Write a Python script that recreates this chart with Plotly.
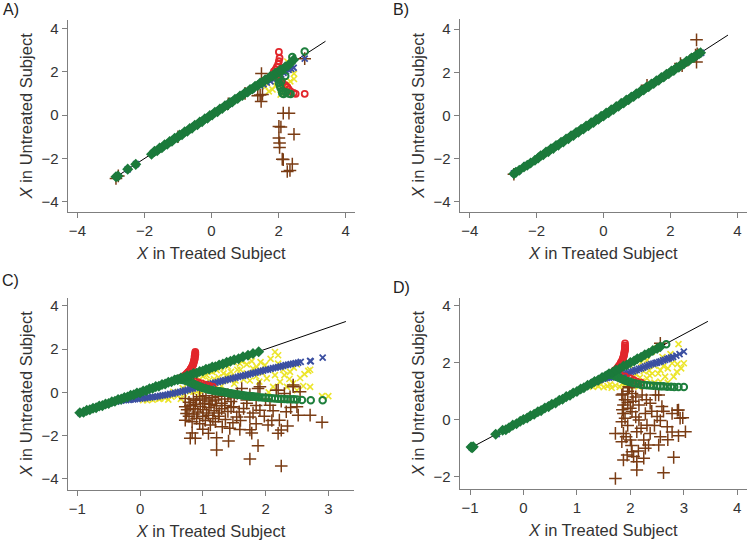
import plotly.graph_objects as go

# ---------------- Panel A ----------------
a_line = [-2.9, 3.4]
a_green_diamonds = [(-2.85,-2.84),(-2.79,-2.81),(-2.50,-2.49),(-2.26,-2.27),(-1.79,-1.80),
    (-1.70,-1.67),(-1.62,-1.64),(-1.55,-1.52),(-1.48,-1.50),(-1.40,-1.37),(-1.32,-1.34),(-1.25,-1.22),
    (-1.18,-1.20),(-1.10,-1.07),(-1.02,-1.04),(-0.95,-0.92),(-0.88,-0.90),(-0.80,-0.77),(-0.72,-0.74),
    (-0.65,-0.62),(-0.58,-0.60),(-0.50,-0.47),(-0.42,-0.44),(-0.35,-0.32),(-0.28,-0.30),(-0.20,-0.17),
    (-0.12,-0.14),(-0.05,-0.02),(0.02,0.00),(0.10,0.13),(0.18,0.16),(0.25,0.28),(0.32,0.30),(0.40,0.43),
    (0.48,0.46),(0.55,0.58),(0.62,0.60),(0.70,0.73),(0.78,0.76),(0.85,0.88),(0.92,0.90),(1.00,1.03),
    (1.08,1.06),(1.15,1.18),(1.22,1.20),(1.30,1.33),(1.38,1.36),(1.45,1.48),(1.52,1.50),(1.60,1.63),
    (1.68,1.66),(1.75,1.78),(1.82,1.80),(1.90,1.93),(1.97,1.95),(2.05,2.08),(2.12,2.10),(2.20,2.22),
    (2.28,2.27),(2.36,2.40),(2.45,2.55)]
a_blue_x = [(-2.82,-2.83),(-2.50,-2.50),(-2.25,-2.26),(-1.50,-1.50),(-0.50,-0.50),(0.50,0.50),(1.20,1.18),
    (1.45,1.36),(1.55,1.42),(1.65,1.50),(1.76,1.55),(1.85,1.63),(1.93,1.70),(2.00,1.76),(2.08,1.86),
    (2.15,1.95),(2.22,2.02),(2.30,2.08),(2.38,2.13),(2.45,2.18),(2.78,2.60)]
a_yellow_x = [(1.71,1.09),(1.82,1.18),(1.90,1.35),(2.06,0.94),(2.12,1.05),(2.20,1.40),(2.26,2.47),(2.30,2.30),
    (2.46,1.91),(2.46,1.66),(2.35,1.55),(1.60,1.30),(1.95,1.55),(2.15,1.20),(2.38,2.35)]
a_red_circles = [(2.01,2.91),(2.03,2.63),(2.01,2.48),(1.99,2.35),(1.95,2.22),(1.91,2.10),(1.86,2.01),(1.88,1.88),
    (1.95,1.75),(2.05,1.62),(2.12,1.50),(2.20,1.38),(2.26,1.30),(2.30,1.20),(2.36,1.09),(2.45,1.02),
    (2.51,0.98),(2.78,0.98)]
a_green_circles = [(2.78,2.93),(2.41,2.68),(2.01,1.78),(2.00,1.65),(2.01,1.48),(2.04,1.35),(2.06,1.25),(2.10,1.12),
    (2.11,1.01),(2.15,0.97),(2.22,1.05),(2.30,0.99),(2.36,0.97),(2.08,1.55),(2.20,1.80)]
a_brown_plus = [(-2.85,-2.92),(-2.78,-2.80),(-1.00,-1.00),(0.50,0.52),(1.00,1.00),(1.49,1.91),(1.38,0.89),
    (1.48,0.63),(1.45,0.92),(1.52,0.95),(2.14,0.09),(2.31,0.09),(2.01,-0.52),(2.07,-0.55),(2.46,-0.88),
    (2.01,-1.06),(2.03,-1.28),(2.03,-1.49),(2.11,-2.03),(2.14,-2.05),(2.41,-2.25),(2.26,-2.60),(2.34,-2.55),
    (2.78,2.60)]

# ---------------- Panel B ----------------
b_line = [-2.7, 3.72]
b_green_diamonds = [(-2.68,-2.69),(-2.62,-2.63),(-2.52,-2.53),(-2.38,-2.38),(-2.28,-2.30),(-2.18,-2.20),
    (-2.05,-2.07),(-1.95,-1.96),(-1.88,-1.86),(-1.80,-1.82),(-1.72,-1.69),(-1.65,-1.67),(-1.57,-1.54),
    (-1.50,-1.52),(-1.42,-1.39),(-1.35,-1.37),(-1.27,-1.24),(-1.20,-1.22),(-1.12,-1.09),(-1.05,-1.07),
    (-0.97,-0.94),(-0.90,-0.92),(-0.82,-0.79),(-0.75,-0.77),(-0.67,-0.64),(-0.60,-0.62),(-0.52,-0.49),
    (-0.45,-0.47),(-0.37,-0.34),(-0.30,-0.32),(-0.22,-0.19),(-0.15,-0.17),(-0.07,-0.04),(0.00,-0.02),
    (0.08,0.11),(0.15,0.13),(0.23,0.26),(0.30,0.28),(0.38,0.41),(0.45,0.43),(0.53,0.56),(0.60,0.58),
    (0.68,0.71),(0.75,0.73),(0.83,0.86),(0.90,0.88),(0.98,1.01),(1.05,1.03),(1.13,1.16),(1.20,1.18),
    (1.28,1.31),(1.35,1.33),(1.43,1.46),(1.50,1.48),(1.58,1.61),(1.65,1.63),(1.73,1.76),(1.80,1.78),
    (1.88,1.91),(1.95,1.93),(2.03,2.06),(2.10,2.08),(2.18,2.21),(2.25,2.23),(2.33,2.36),(2.40,2.38),
    (2.48,2.51),(2.55,2.53),(2.63,2.66),(2.70,2.68),(2.78,2.80),(2.85,2.85),(2.90,2.90)]
b_blue_x = [(-2.68,-2.68),(-2.55,-2.56),(-2.30,-2.30),(2.70,2.70),(2.85,2.85),(2.92,2.90)]
b_brown_plus = [(2.78,3.50),(2.78,2.47),(2.75,2.80),(2.80,2.85),(2.30,2.40),(2.35,2.30),(1.30,1.40),(-2.68,-2.72)]

# ---------------- Panel C ----------------
c_line = [-0.95, 3.28]
c_green_diamonds = [(-0.96,-0.94),(-0.90,-0.91),(-0.85,-0.83),(-0.80,-0.80),(-0.75,-0.73),(-0.70,-0.71),
    (-0.65,-0.63),(-0.60,-0.61),(-0.55,-0.53),(-0.50,-0.51),(-0.45,-0.43),(-0.40,-0.41),(-0.35,-0.33),
    (-0.30,-0.31),(-0.25,-0.23),(-0.20,-0.21),(-0.15,-0.13),(-0.10,-0.11),(-0.05,-0.03),(0.00,-0.01),
    (0.05,0.07),(0.10,0.09),(0.15,0.17),(0.20,0.19),(0.25,0.27),(0.30,0.29),(0.35,0.37),(0.40,0.39),
    (0.45,0.47),(0.50,0.49),(0.55,0.57),(0.60,0.59),(0.65,0.67),(0.70,0.69),(0.75,0.77),(0.80,0.79),
    (0.85,0.87),(0.90,0.89),(0.95,0.97),(1.00,0.99),(1.05,1.07),(1.10,1.09),(1.15,1.17),(1.20,1.19),
    (1.26,1.27),(1.32,1.31),(1.38,1.39),(1.44,1.44),(1.50,1.51),(1.57,1.56),(1.64,1.65),(1.72,1.72),
    (1.80,1.80),(1.89,1.88)]
c_green_circles = [(0.60,0.63),(0.63,0.61),(0.65,0.60),(0.68,0.58),(0.70,0.57),(0.73,0.54),(0.75,0.52),
    (0.78,0.49),(0.80,0.46),(0.83,0.43),(0.85,0.40),(0.88,0.36),(0.90,0.33),(0.93,0.30),(0.95,0.27),
    (0.98,0.24),(1.00,0.21),(1.03,0.19),(1.05,0.17),(1.08,0.15),(1.10,0.13),(1.13,0.11),(1.15,0.10),
    (1.18,0.08),(1.20,0.07),(1.23,0.06),(1.25,0.05),(1.28,0.04),(1.30,0.03),(1.33,0.02),(1.35,0.01),
    (1.38,-0.01),(1.40,-0.02),(1.43,-0.04),(1.45,-0.05),(1.48,-0.06),(1.50,-0.07),(1.53,-0.09),(1.55,-0.10),
    (1.58,-0.11),(1.60,-0.12),(1.63,-0.13),(1.65,-0.14),(1.68,-0.15),(1.70,-0.16),(1.73,-0.17),(1.75,-0.17),
    (1.78,-0.18),(1.80,-0.19),(1.83,-0.20),(1.85,-0.20),(1.88,-0.21),(1.90,-0.22),(1.95,-0.23),(2.00,-0.25),
    (2.05,-0.26),(2.10,-0.27),(2.15,-0.28),(2.20,-0.29),(2.25,-0.30),(2.30,-0.30),(2.35,-0.31),(2.40,-0.31),
    (2.45,-0.32),(2.50,-0.33),(2.58,-0.35),(2.72,-0.36),(2.91,-0.36)]
c_red_circles = [(0.62,0.64),(0.65,0.67),(0.67,0.70),(0.69,0.74),(0.71,0.78),(0.73,0.82),(0.74,0.86),
    (0.76,0.91),(0.77,0.95),(0.79,1.00),(0.80,1.05),(0.81,1.10),(0.82,1.15),(0.83,1.20),(0.84,1.26),
    (0.85,1.32),(0.85,1.37),(0.86,1.43),(0.86,1.48),(0.87,1.53),(0.87,1.58),(0.87,1.63),(0.87,1.68),
    (0.88,1.73),(0.88,1.77),(0.88,1.82),(0.88,1.87),(0.70,0.62),(0.76,0.58),(0.82,0.55),(0.88,0.51),
    (0.93,0.47),(0.98,0.42),(1.04,0.36),(1.10,0.31),(1.16,0.27)]
c_blue_x = [(-0.95,-0.95),(-0.85,-0.85),(-0.75,-0.75),(-0.65,-0.65),(-0.55,-0.55),(-0.45,-0.47),(-0.38,-0.42),
    (-0.34,-0.40),(-0.30,-0.38),(-0.26,-0.36),(-0.22,-0.35),(-0.18,-0.34),(-0.15,-0.33),(-0.11,-0.32),
    (-0.08,-0.31),(-0.04,-0.30),(0.00,-0.29),(0.04,-0.27),(0.08,-0.26),(0.12,-0.24),(0.16,-0.23),
    (0.20,-0.21),(0.24,-0.20),(0.28,-0.18),(0.32,-0.16),(0.36,-0.14),(0.40,-0.12),(0.44,-0.10),(0.48,-0.07),
    (0.52,-0.05),(0.56,-0.02),(0.60,0.00),(0.64,0.03),(0.68,0.06),(0.72,0.09),(0.76,0.12),(0.80,0.15),
    (0.84,0.18),(0.88,0.21),(0.92,0.24),(0.96,0.27),(1.00,0.30),(1.04,0.33),(1.08,0.36),(1.12,0.39),
    (1.16,0.42),(1.20,0.45),(1.24,0.48),(1.28,0.51),(1.32,0.54),(1.36,0.57),(1.40,0.60),(1.44,0.63),
    (1.48,0.66),(1.52,0.69),(1.56,0.72),(1.60,0.75),(1.64,0.77),(1.68,0.80),(1.72,0.83),(1.76,0.86),
    (1.80,0.89),(1.84,0.92),(1.88,0.95),(1.92,0.98),(1.96,1.01),(2.00,1.04),(2.04,1.06),(2.08,1.09),
    (2.12,1.12),(2.16,1.15),(2.20,1.17),(2.24,1.20),(2.28,1.23),(2.32,1.26),(2.36,1.28),(2.40,1.31),
    (2.44,1.33),(2.48,1.36),(2.52,1.38),(2.56,1.41),(2.71,1.46),(2.72,1.44),(2.91,1.61)]
c_yellow_x = [(0.05,-0.36),(0.11,-0.36),(0.20,-0.34),(0.30,-0.30),(0.32,-0.28),(0.40,-0.25),(0.45,-0.33),
    (0.50,-0.20),(0.53,0.03),(0.60,-0.15),(0.65,-0.30),(0.70,-0.05),(0.75,0.10),(0.80,0.05),(0.85,0.03),
    (0.90,0.50),(0.95,0.60),(1.00,0.75),(1.06,0.80),(1.10,0.55),(1.15,0.95),(1.22,1.03),(1.25,0.70),
    (1.33,0.88),(1.40,1.20),(1.43,0.72),(1.49,1.41),(1.55,1.05),(1.59,1.34),(1.65,0.60),(1.70,0.88),
    (1.75,1.72),(1.80,1.10),(1.86,1.18),(1.90,0.50),(1.99,1.26),(2.02,0.65),(2.05,0.00),(2.12,0.26),
    (2.15,1.87),(2.20,1.72),(2.20,1.33),(2.23,0.49),(2.30,0.80),(2.34,0.26),(2.39,0.95),(2.44,0.42),
    (2.50,0.10),(2.55,0.67),(2.60,0.30),(2.68,1.00),(2.71,0.26),(2.71,1.05),(2.90,-0.17),(3.00,-0.17),
    (1.30,0.30),(1.50,0.40),(1.00,0.10),(1.20,0.20),(0.95,-0.10),(1.12,1.00),(1.28,1.15),(1.62,1.45),
    (1.05,0.45),(1.35,0.55),(1.70,1.30),(1.85,0.75),(0.85,0.35),(1.45,0.95),(0.15,-0.30),(0.25,-0.25),
    (0.38,-0.18),(0.58,-0.08),(0.68,0.20),(0.78,0.28),(0.92,0.08),(1.18,0.62),(1.38,0.80),(1.52,0.55),
    (1.60,1.05),(1.78,1.45),(1.92,1.40),(2.08,1.55),(2.28,1.05),(2.45,1.15),(2.15,0.80),(1.95,0.90),
    (2.62,0.85),(2.38,0.62),(1.75,0.55),(2.50,1.30)]
c_brown_plus = [(0.72,-0.28),(0.78,-0.45),(0.85,-0.30),(0.90,-0.36),(0.95,-0.20),(1.00,-0.30),(1.05,-0.15),
    (1.10,-0.40),(1.15,-0.25),(1.20,-0.35),(1.25,-0.18),(1.30,-0.50),(1.35,-0.30),(1.40,-0.10),(1.45,-0.42),
    (1.50,-0.25),(1.55,-0.05),(1.62,0.18),(1.70,-0.35),(1.75,-0.10),(1.88,0.18),(1.91,0.26),(2.00,-0.30),
    (2.17,0.10),(2.20,0.10),(2.39,-0.20),(2.44,0.34),(2.44,0.26),(2.55,0.03),(2.30,-0.05),
    (0.72,-0.66),(0.75,-0.80),(0.80,-0.60),(0.85,-0.75),(0.88,-0.55),(0.92,-0.90),(0.96,-0.65),(1.00,-0.80),
    (1.03,-0.50),(1.06,-0.95),(1.10,-0.70),(1.13,-0.55),(1.18,-0.85),(1.22,-0.62),(1.26,-0.95),(1.30,-0.75),
    (1.35,-0.60),(1.40,-0.88),(1.45,-0.70),(1.49,-0.66),(1.54,-1.13),(1.58,-0.90),(1.65,-0.74),(1.70,-0.50),
    (1.75,-1.13),(1.80,-0.95),(1.85,-0.60),(1.91,-0.82),(1.98,-1.10),(2.07,-0.59),(2.12,-0.85),(2.22,-1.28),
    (2.25,-0.40),(2.33,-0.89),(2.40,-0.70),(2.50,-0.66),(2.52,-1.05),(2.71,-1.05),(2.90,-1.38),
    (0.72,-1.28),(0.74,-0.97),(0.78,-1.10),(0.83,-1.35),(0.86,-1.00),(0.90,-1.20),(0.95,-1.45),(1.00,-1.10),
    (1.04,-1.30),(1.09,-1.05),(1.12,-1.50),(1.16,-1.20),(1.20,-1.35),(1.25,-1.10),(1.31,-1.59),(1.36,-1.25),
    (1.43,-1.66),(1.48,-1.40),(1.60,-1.30),(1.59,-1.71),(1.75,-1.73),(1.78,-1.88),(1.85,-1.45),(2.04,-1.51),
    (2.10,-1.30),(2.20,-1.89),(2.25,-1.74),(2.35,-1.55),
    (0.80,-2.12),(0.88,-2.12),(0.83,-1.87),(1.09,-1.89),(1.22,-2.10),(1.00,-1.70),(1.41,-2.25),(1.22,-2.66),
    (1.75,-3.08),(1.88,-2.46),(2.25,-3.40)]

# ---------------- Panel D ----------------
d_line = [-0.95, 3.45]
d_green_diamonds = [(-0.98,-0.96),(-0.96,-0.98),(-0.94,-0.95),(-0.52,-0.51),(-0.39,-0.37),(-0.33,-0.35),
    (-0.27,-0.28),(-0.20,-0.19),(-0.13,-0.14),(-0.06,-0.05),(0.00,0.01),(0.07,0.06),(0.13,0.14),(0.20,0.19),
    (0.27,0.28),(0.33,0.32),(0.40,0.41),(0.47,0.46),(0.53,0.54),(0.60,0.59),(0.67,0.68),(0.73,0.72),
    (0.80,0.81),(0.87,0.86),(0.93,0.94),(1.00,0.99),(1.07,1.08),(1.13,1.12),(1.20,1.21),(1.27,1.26),
    (1.33,1.34),(1.40,1.39),(1.47,1.48),(1.53,1.52),(1.60,1.61),(1.67,1.66),(1.73,1.74),(1.80,1.79),
    (1.87,1.88),(1.93,1.92),(2.00,2.01),(2.07,2.06),(2.13,2.14),(2.20,2.19),(2.27,2.28),(2.34,2.33),
    (2.42,2.43),(2.50,2.50),(2.56,2.56)]
d_green_circles = [(1.60,1.60),(1.63,1.59),(1.65,1.58),(1.68,1.57),(1.70,1.55),(1.73,1.52),(1.75,1.50),
    (1.78,1.48),(1.80,1.46),(1.83,1.44),(1.85,1.42),(1.88,1.40),(1.90,1.38),(1.93,1.36),(1.95,1.35),
    (1.98,1.33),(2.00,1.32),(2.05,1.29),(2.10,1.27),(2.15,1.25),(2.20,1.23),(2.25,1.22),(2.31,1.21),
    (2.37,1.20),(2.43,1.19),(2.50,1.18),(2.56,1.17),(2.62,1.17),(2.69,1.16),(2.76,1.16),(2.82,1.15),
    (2.90,1.15),(3.00,1.15),(2.67,2.65)]
d_red_circles = [(1.70,1.72),(1.73,1.76),(1.75,1.80),(1.77,1.85),(1.79,1.90),(1.81,1.95),(1.82,2.00),
    (1.84,2.05),(1.85,2.10),(1.86,2.15),(1.87,2.20),(1.88,2.25),(1.88,2.30),(1.89,2.35),(1.89,2.40),
    (1.90,2.45),(1.90,2.50),(1.90,2.55),(1.90,2.60),(1.90,2.68),(1.80,1.60),(1.90,1.52),(2.00,1.45),
    (2.06,1.40),(2.12,1.34),(2.20,1.30)]
d_blue_x = [(-0.97,-0.97),(-0.50,-0.50),(0.50,0.50),(1.30,1.30),(1.34,1.33),(1.38,1.36),(1.42,1.39),
    (1.45,1.42),(1.49,1.44),(1.52,1.45),(1.56,1.47),(1.60,1.48),(1.64,1.49),(1.68,1.50),(1.72,1.51),
    (1.75,1.52),(1.79,1.54),(1.82,1.56),(1.86,1.58),(1.90,1.60),(1.94,1.63),(1.97,1.65),(2.01,1.68),
    (2.05,1.70),(2.09,1.73),(2.12,1.75),(2.16,1.78),(2.20,1.80),(2.24,1.83),(2.27,1.86),(2.31,1.89),
    (2.35,1.92),(2.39,1.95),(2.43,1.97),(2.47,1.99),(2.50,2.00),(2.54,2.03),(2.57,2.05),(2.61,2.08),
    (2.65,2.10),(2.69,2.13),(2.72,2.15),(2.76,2.18),(2.80,2.20),(2.86,2.25),(2.92,2.30),(3.00,2.39)]
d_yellow_x = [(1.30,1.15),(1.40,1.18),(1.50,1.14),(1.57,1.18),(1.65,1.12),(1.72,1.20),(1.80,1.15),(1.90,1.25),
    (2.00,1.16),(2.05,1.50),(2.10,1.60),(2.15,1.16),(2.21,1.34),(2.25,1.70),(2.31,1.45),(2.31,2.09),
    (2.36,1.55),(2.40,2.39),(2.41,1.62),(2.45,1.90),(2.50,2.50),(2.56,1.74),(2.56,1.34),(2.60,2.20),
    (2.65,1.51),(2.70,1.80),(2.75,2.30),(2.81,1.51),(2.87,1.68),(2.88,1.95),(2.90,2.65),(3.00,1.98),
    (2.20,2.00),(2.00,1.90),(2.70,1.30),(2.45,1.30),(1.35,1.22),(1.45,1.25),(1.62,1.24),(1.85,1.28),
    (2.18,1.48),(2.35,1.72),(2.52,1.62),(2.62,1.88),(2.78,1.98),(2.95,1.80)]
d_brown_plus = [(1.98,1.12),(1.86,0.90),(1.97,1.16),(2.56,2.68),(1.84,0.87),(2.03,0.92),(2.22,0.87),
    (2.47,0.87),(2.53,0.87),(1.87,0.52),(2.00,0.40),(2.16,0.52),(2.37,0.58),(2.59,0.46),(2.78,0.22),
    (2.90,0.34),(2.93,0.05),(1.87,0.22),(2.03,0.28),(2.28,0.22),(2.50,0.11),(2.56,-0.03),(1.84,-0.07),
    (2.16,-0.01),(2.31,-0.19),(2.69,-0.25),(2.78,-0.43),(2.90,-0.56),(3.03,-0.42),(1.72,-0.48),(1.87,-0.48),
    (2.12,-0.42),(2.37,-0.48),(2.56,-0.60),(1.84,-0.77),(2.00,-0.71),(2.25,-0.71),(2.34,-0.89),(2.53,-0.89),
    (2.28,-1.00),(2.03,-1.12),(1.94,-1.24),(2.06,-1.29),(1.87,-1.41),(2.12,-1.47),(2.25,-1.35),(2.81,-1.32),
    (2.12,-1.76),(2.62,-1.86),(1.72,-2.06),(1.90,0.70),(1.95,0.60),(1.90,0.05),(1.95,-0.20),(1.85,0.35),
    (2.05,0.65),(1.92,-0.60),(2.10,0.10),(2.40,0.30),(2.20,-0.30),(2.02,-0.90),(2.45,-0.20),(2.62,0.30),
    (2.70,-0.70),(2.30,0.70),(2.15,-1.10),(1.95,1.00),(2.10,0.80),(2.98,0.07),(2.88,0.33)]

# axis ticks
ab_ticks = [-4, -2, 0, 2, 4]
c_xticks = [-1, 0, 1, 2, 3]
c_yticks = [-4, -2, 0, 2, 4]
d_xticks = [-1, 0, 1, 2, 3, 4]
d_yticks = [-2, 0, 2, 4]
panel_labels = ["A)", "B)", "C)", "D)"]

FONT = "Liberation Sans, Arial, Helvetica, sans-serif"
C_YEL = "#ece52c"
C_BRN = "#7a3c14"
C_BLU = "#3b4fa1"
C_RED = "#e2262b"
C_GCI = "#1e7f3d"
C_GDI = "#1b7a3b"
TXT = "#333333"

W, H = 748, 542

def px_dom_x(a, b):
    return [a / W, b / W]

def px_dom_y(top, bottom):
    return [(H - bottom) / H, (H - top) / H]

panels = [
    dict(line=a_line, yel=a_yellow_x, brn=a_brown_plus, blu=a_blue_x, red=a_red_circles, gci=a_green_circles,
         gdi=a_green_diamonds, xd=px_dom_x(67.7, 355), yd=px_dom_y(20, 211.7), xr=[-4.29, 4.28], yr=[-4.45, 4.38],
         xt=ab_ticks, yt=ab_ticks),
    dict(line=b_line, yel=[], brn=b_brown_plus, blu=b_blue_x, red=[], gci=[], gdi=b_green_diamonds,
         xd=px_dom_x(459.7, 746.7), yd=px_dom_y(19.3, 211.7), xr=[-4.30, 4.28], yr=[-4.45, 4.45],
         xt=ab_ticks, yt=ab_ticks),
    dict(line=c_line, yel=c_yellow_x, brn=c_brown_plus, blu=c_blue_x, red=c_red_circles, gci=c_green_circles,
         gdi=c_green_diamonds, xd=px_dom_x(67.7, 354.3), yd=px_dom_y(297.7, 490), xr=[-1.153, 3.414],
         yr=[-4.51, 4.38], xt=c_xticks, yt=c_yticks),
    dict(line=d_line, yel=d_yellow_x, brn=d_brown_plus, blu=d_blue_x, red=d_red_circles, gci=d_green_circles,
         gdi=d_green_diamonds, xd=px_dom_x(459.7, 746.7), yd=px_dom_y(297.7, 489.3), xr=[-1.193, 4.176],
         yr=[-2.44, 4.28], xt=d_xticks, yt=d_yticks),
]

fig = go.Figure()

def xy(pts):
    return [p[0] for p in pts], [p[1] for p in pts]

layout = {}
for i, p in enumerate(panels):
    n = "" if i == 0 else str(i + 1)
    xa, ya = "x" + n, "y" + n
    fig.add_trace(go.Scatter(x=p["line"], y=p["line"], mode="lines", line=dict(color="black", width=1),
                             xaxis=xa, yaxis=ya, hoverinfo="skip"))
    specs = [
        ("yel", dict(symbol="x-thin", size=6, color=C_YEL, line=dict(color=C_YEL, width=1.6))),
        ("brn", dict(symbol="cross-thin", size=9, color=C_BRN, line=dict(color=C_BRN, width=1.5))),
        ("blu", dict(symbol="x-thin", size=6, color=C_BLU, line=dict(color=C_BLU, width=1.8))),
        ("red", dict(symbol="circle-open", size=6, color=C_RED, line=dict(width=1.8))),
        ("gci", dict(symbol="circle-open", size=6.5, color=C_GCI, line=dict(width=2))),
        ("gdi", dict(symbol="diamond", size=8.5, color=C_GDI, line=dict(width=0))),
    ]
    for key, mk in specs:
        if not p[key]:
            continue
        x, y = xy(p[key])
        fig.add_trace(go.Scatter(x=x, y=y, mode="markers", marker=mk, xaxis=xa, yaxis=ya))
    axis_common = dict(showline=True, linecolor="#7f7f7f", linewidth=1.2, ticks="outside", ticklen=5,
                       tickcolor="#7f7f7f", tickwidth=1.2, showgrid=False, zeroline=False,
                       ticklabeloverflow="allow", automargin=False,
                       tickfont=dict(family=FONT, size=15, color=TXT))
    layout["xaxis" + n] = dict(axis_common, domain=p["xd"], range=p["xr"], tickvals=p["xt"], anchor=ya,
                               title=dict(text="<i>X</i> in Treated Subject",
                                          font=dict(family=FONT, size=16.5, color=TXT), standoff=9))
    layout["yaxis" + n] = dict(axis_common, domain=p["yd"], range=p["yr"], tickvals=p["yt"], anchor=xa,
                               title=dict(text="<i>X</i> in Untreated Subject",
                                          font=dict(family=FONT, size=16.5, color=TXT), standoff=4))

label_pos = [(1, 10), (391, 10), (0, 280), (391, 287)]
annotations = []
for lab, (lx, ly) in zip(panel_labels, label_pos):
    annotations.append(dict(text=lab, x=lx / W, y=(H - ly) / H, xref="paper", yref="paper",
                            xanchor="left", yanchor="middle", showarrow=False,
                            font=dict(family=FONT, size=16, color="#222222")))

fig.update_layout(width=W, height=H, margin=dict(l=0, r=0, t=0, b=0), showlegend=False,
                  paper_bgcolor="white", plot_bgcolor="white", annotations=annotations,
                  font=dict(family=FONT), **layout)

fig.write_html("out.html", config={"displayModeBar": False},
               post_script="document.body.style.margin='0px';document.body.style.overflow='hidden';")
